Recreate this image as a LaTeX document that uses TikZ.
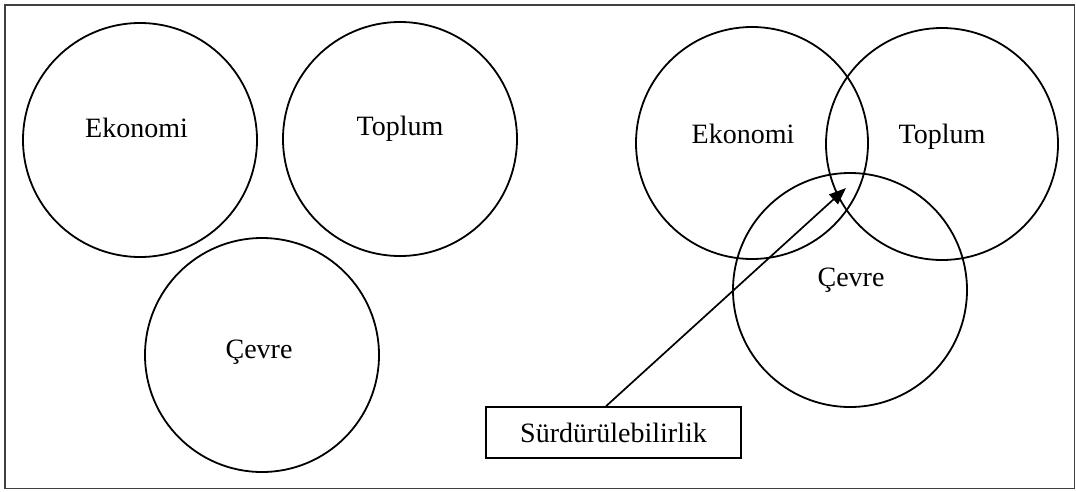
\documentclass[tikz,border=0pt]{standalone}
\usepackage{fontspec}
\setmainfont{Liberation Serif}
\usetikzlibrary{arrows.meta}
\begin{document}
\begin{tikzpicture}[x=1pt,y=-1pt,
  ring/.style={draw=black,line width=1.8pt,circle,minimum size=#1,inner sep=0pt},
  lbl/.style={font=\fontsize{28}{33}\selectfont,anchor=base,inner sep=0pt},
  labelbox/.style={draw=black,line width=1.6pt,font=\fontsize{28}{33}\selectfont,minimum width=255pt,minimum height=51pt,inner sep=0pt},
  arr/.style={draw=black,line width=1.7pt,-{Triangle[length=17pt,width=13pt]}},
  frame/.style={draw=black!75,line width=1.6pt}]
\useasboundingbox (0,0) rectangle (1076,491);
\draw[frame] (5,5) rectangle (1074.5,488.5);
% left group
\node[ring=234pt] (ekL) at (140,140) {};
\node[ring=234pt] (toL) at (400,139) {};
\node[ring=234pt] (ceL) at (262,355) {};
\node[lbl] (ekLt) at (136.5,137) {Ekonomi};
\node[lbl] (toLt) at (400,135) {Toplum};
\node[lbl] (ceLt) at (259,358) {Çevre};
% right group
\node[ring=232pt] (ekR) at (752,143) {};
\node[ring=232pt] (toR) at (942,144) {};
\node[ring=234pt] (ceR) at (850,290) {};
\node[lbl] (ekRt) at (743,143) {Ekonomi};
\node[lbl] (toRt) at (942,143) {Toplum};
\node[lbl] (ceRt) at (851,286) {Çevre};
% label box and arrow
\node[labelbox] (box) at (613.5,432.5) {Sürdürülebilirlik};
\coordinate (tip) at (846,188);
\draw[arr] ([xshift=-7.5pt]box.north) -- (tip);
\end{tikzpicture}
\end{document}
